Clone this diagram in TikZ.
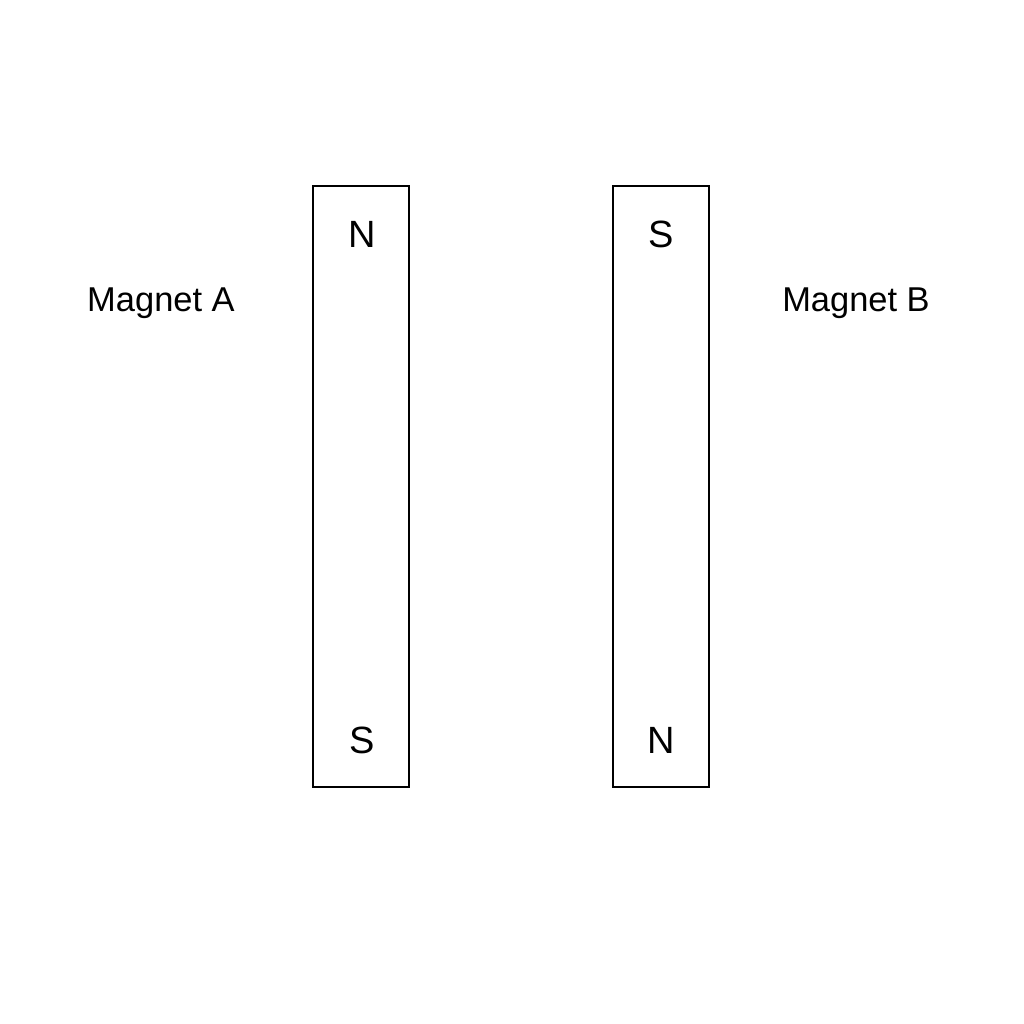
\documentclass[tikz,border=0pt]{standalone}
\usepackage{fontspec}
\setmainfont{Liberation Sans}
\begin{document}
\begin{tikzpicture}[x=0.01cm,y=-0.01cm,
  magnet/.style={draw=black,line width=0.6pt},
  pole/.style={font=\fontsize{10.8}{12}\selectfont,inner sep=0pt},
  lbl/.style={font=\fontsize{9.8}{12}\selectfont,inner sep=0pt,anchor=base}]
\fill[white] (0,0) rectangle (1024,1024);
\useasboundingbox (0,0) rectangle (1024,1024);
\draw[magnet] (313,186) rectangle (409,787);
\draw[magnet] (613,186) rectangle (709,787);
\node[pole] (an) at (362,234) {N};
\node[pole] (as) at (362,740) {S};
\node[pole] (bs) at (661,234) {S};
\node[pole] (bn) at (661,740) {N};
\node[lbl] (la) at (161,311) {Magnet A};
\node[lbl] (lb) at (856,311) {Magnet B};
\end{tikzpicture}
\end{document}
